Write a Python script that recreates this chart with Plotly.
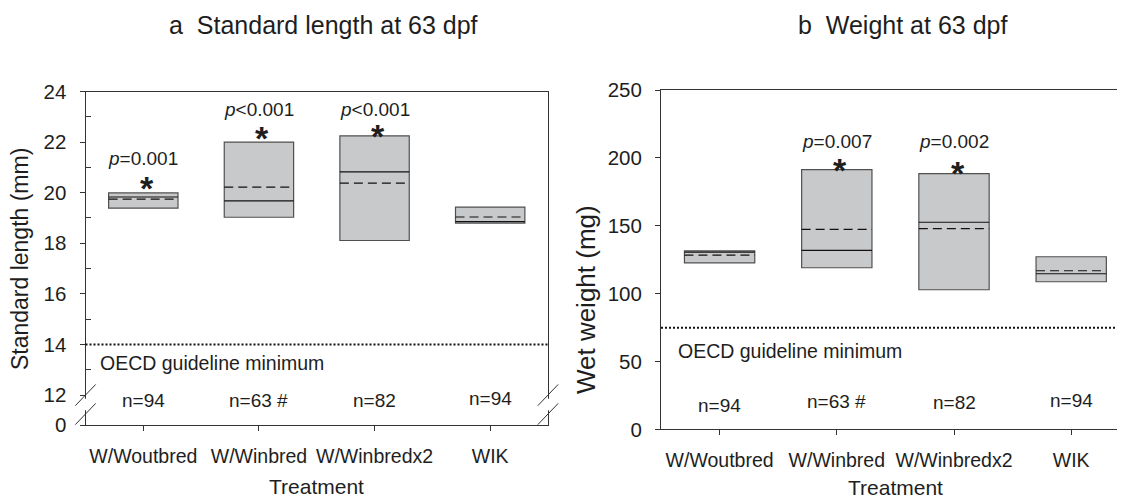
import plotly.graph_objects as go

treatments = ["W/Woutbred", "W/Winbred", "W/Winbredx2", "WIK"]
n_labels = ["n=94", "n=63 #", "n=82", "n=94"]

# a: standard length (mm) - box bottom/top, median (solid), mean (dashed)
sl_low = [19.39, 19.03, 18.11, 18.80]
sl_high = [19.99, 22.00, 22.25, 19.43]
sl_median = [19.83, 19.68, 20.82, 18.86]
sl_mean = [19.75, 20.22, 20.38, 19.04]
sl_p = ["<i>p</i>=0.001", "<i>p</i>&lt;0.001", "<i>p</i>&lt;0.001", ""]
sl_p_y = [21.34, 23.28, 23.28, None]
sl_star_y = [20.45, 22.42, 22.52, None]
sl_n_y = [11.77, 11.77, 11.77, 11.88]
sl_oecd = 14
sl_ticks = [12, 14, 16, 18, 20, 22, 24]
sl_bottom = 10.81  # axis is broken between 0 and 12

# b: wet weight (mg)
wt_low = [122.7, 119.1, 102.9, 108.8]
wt_high = [131.6, 191.4, 188.4, 127.2]
wt_median = [130.6, 131.9, 152.6, 114.7]
wt_mean = [128.4, 147.4, 147.9, 116.9]
wt_p = ["", "<i>p</i>=0.007", "<i>p</i>=0.002", ""]
wt_p_y = [None, 212.3, 212.3, None]
wt_star_y = [None, 196.3, 193.8, None]
wt_n_y = [18.0, 20.3, 19.6, 21.6]
wt_oecd = 75
wt_ticks = [0, 50, 100, 150, 200, 250]

FONT = "Arial, Liberation Sans, sans-serif"
TXT = "#1e1e1e"
BOX = "#c8c9cb"
EDGE = "#505050"
HALF = 0.3
W, H = 1117, 493  # page body has an 8px margin
xs = list(range(len(treatments)))


def fx(px):
    return (px - 8) / W


def fy(py, lo=0, hi=H):
    y = min(max((py - 20) / 0.953, lo), hi)
    return 1 - y / H


def seg(vals):
    x, y = [], []
    for i, v in enumerate(vals):
        x += [i - HALF, i + HALF, None]
        y += [v, v, None]
    return x, y


fig = go.Figure()

for low, high, med, mean, xa, ya in [
    (sl_low, sl_high, sl_median, sl_mean, "x", "y"),
    (wt_low, wt_high, wt_median, wt_mean, "x2", "y2"),
]:
    fig.add_trace(go.Bar(x=xs, y=[h - l for h, l in zip(high, low)], base=low,
                         width=2 * HALF, marker=dict(color=BOX, line=dict(color=EDGE, width=1.2)),
                         xaxis=xa, yaxis=ya))
    mx, my = seg(med)
    fig.add_trace(go.Scatter(x=mx, y=my, mode="lines", line=dict(color="#111", width=1.2),
                             xaxis=xa, yaxis=ya))
    ax, ay = seg(mean)
    fig.add_trace(go.Scatter(x=ax, y=ay, mode="lines", line=dict(color="#111", width=1.2, dash="9px,5px"),
                             xaxis=xa, yaxis=ya))

axis_common = dict(showgrid=False, zeroline=False, showline=True, linecolor="#333", linewidth=1,
                   ticks="outside", ticklen=5, tickcolor="#333")
xfont = dict(family=FONT, size=19.5, color=TXT)
yfont = dict(family=FONT, size=20.5, color=TXT)

fig.update_layout(
    width=W, height=H, margin=dict(l=0, r=0, t=0, b=0),
    plot_bgcolor="white", paper_bgcolor="white", showlegend=False, barmode="overlay",
    xaxis=dict(axis_common, domain=[fx(85.5), fx(548)], range=[-0.5, 3.5], mirror=True,
               tickvals=xs, ticktext=treatments, tickfont=xfont, ticklabelstandoff=8),
    yaxis=dict(axis_common, domain=[fy(425), fy(91.5)], range=[sl_bottom, 24], mirror=True,
               tickvals=[sl_bottom] + sl_ticks, ticktext=["0"] + [str(t) for t in sl_ticks],
               tickfont=yfont, ticklabelstandoff=9,
               minor=dict(tickvals=[13, 15, 17, 19, 21, 23], ticks="inside", ticklen=5, tickcolor="#333")),
    xaxis2=dict(axis_common, domain=[fx(661), 1], range=[-0.5, -0.5 + (1125 - 661) / 117.2],
                mirror=True, anchor="y2", tickvals=xs, ticktext=treatments, tickfont=xfont,
                ticklabelstandoff=8),
    yaxis2=dict(axis_common, domain=[fy(429.3), fy(90)], range=[0, 250], anchor="x2",
                tickvals=wt_ticks, tickfont=yfont, ticklabelstandoff=9),
)

# OECD guideline lines
fig.add_shape(type="line", xref="x domain", yref="y", x0=0, x1=1, y0=sl_oecd, y1=sl_oecd,
              line=dict(color="#111", width=2, dash="2px,2px"))
fig.add_shape(type="line", xref="x2 domain", yref="y2", x0=0, x1=1, y0=wt_oecd, y1=wt_oecd,
              line=dict(color="#111", width=2, dash="2px,2px"))

# axis break marks on panel a
for xd in [0, 1]:
    fig.add_shape(type="line", xref="x domain", yref="y", x0=xd, x1=xd, y0=11.4, y1=11.85,
                  line=dict(color="white", width=3))
    for yc in [12.0, 11.25]:
        fig.add_shape(type="line", xref="x domain", yref="y", x0=xd - 0.022, x1=xd + 0.022,
                      y0=yc - 0.42, y1=yc + 0.42, line=dict(color="#333", width=1))

ann = []
for p_txt, p_y, star_y, n_y, xr, yr in [
    (sl_p, sl_p_y, sl_star_y, sl_n_y, "x", "y"),
    (wt_p, wt_p_y, wt_star_y, wt_n_y, "x2", "y2"),
]:
    for i in xs:
        if p_txt[i]:
            ann.append(dict(x=i, y=p_y[i], xref=xr, yref=yr, text=p_txt[i], showarrow=False,
                            font=dict(family=FONT, size=19, color=TXT)))
            ann.append(dict(x=i + 0.03, y=star_y[i], xref=xr, yref=yr, text="<b>*</b>", yanchor="middle",
                            yshift=-7, showarrow=False, font=dict(family=FONT, size=34, color=TXT)))
        ann.append(dict(x=i, y=n_y[i], xref=xr, yref=yr, text=n_labels[i], showarrow=False,
                        font=dict(family=FONT, size=19, color=TXT)))

ann += [
    dict(x=-0.39, y=13.27, xref="x", yref="y", xanchor="left", text="OECD guideline minimum",
         showarrow=False, font=dict(family=FONT, size=19.5, color=TXT)),
    dict(x=-0.37, y=58.1, xref="x2", yref="y2", xanchor="left", text="OECD guideline minimum",
         showarrow=False, font=dict(family=FONT, size=19.5, color=TXT)),
    dict(x=fx(323), y=fy(22, lo=5), xref="paper", yref="paper", xanchor="center", yanchor="middle",
         text="a  Standard length at 63 dpf", showarrow=False, font=dict(family=FONT, size=25, color=TXT)),
    dict(x=fx(902), y=fy(22, lo=5), xref="paper", yref="paper", xanchor="center", yanchor="middle",
         text="b  Weight at 63 dpf", showarrow=False, font=dict(family=FONT, size=25, color=TXT)),
    dict(x=fx(20), y=fy(259), xref="paper", yref="paper", xanchor="center", yanchor="middle",
         text="Standard length (mm)", textangle=-90, showarrow=False,
         font=dict(family=FONT, size=23, color=TXT)),
    dict(x=fx(586), y=fy(300), xref="paper", yref="paper", xanchor="center", yanchor="middle",
         text="Wet weight (mg)", textangle=-90, showarrow=False,
         font=dict(family=FONT, size=26, color=TXT)),
    dict(x=1.5, y=fy(486, hi=490), xref="x", yref="paper", xanchor="center", yanchor="middle",
         text="Treatment", showarrow=False, font=dict(family=FONT, size=21, color=TXT)),
    dict(x=1.5, y=fy(488, hi=490), xref="x2", yref="paper", xanchor="center", yanchor="middle",
         text="Treatment", showarrow=False, font=dict(family=FONT, size=21, color=TXT)),
]
fig.update_layout(annotations=ann)

fig.write_html("out.html")
